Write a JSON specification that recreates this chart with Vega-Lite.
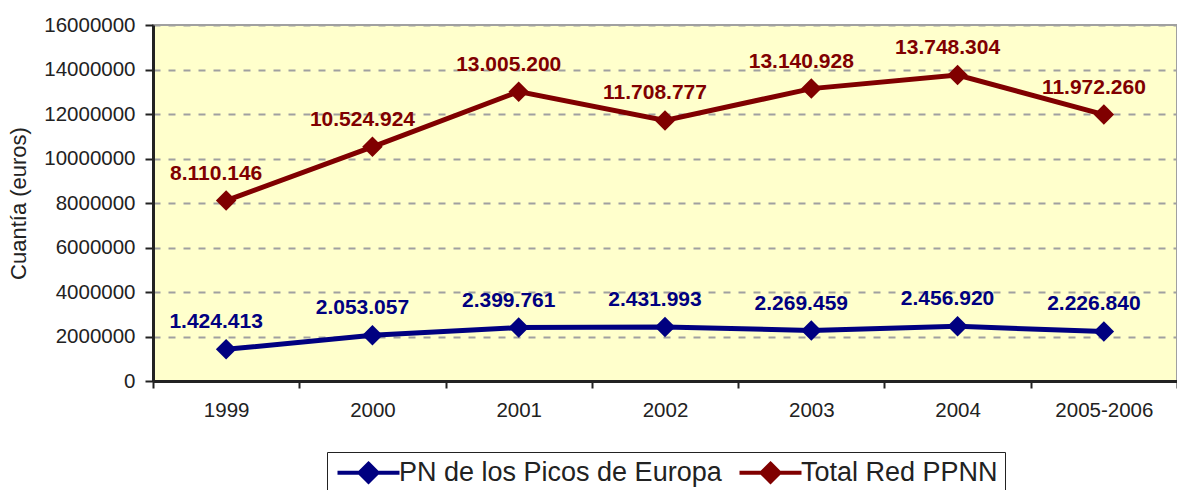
{
  "$schema": "https://vega.github.io/schema/vega-lite/v6.json",
  "autosize": "none",
  "padding": {"left": 153, "top": 25, "right": 0, "bottom": 109},
  "width": 1024,
  "height": 356,
  "background": "white",
  "config": {
    "locale": {"number": {"decimal": ",", "thousands": ".", "grouping": [3], "currency": ["", " €"]}},
    "font": "Liberation Sans",
    "view": {"fill": "#FFFFCC", "stroke": "#A0A0A0", "strokeWidth": 2},
    "legend": {"strokeColor": "#222", "padding": 7, "fillColor": "white"}
  },
  "data": {
    "values": [
      {"year": "1999", "series": "PN de los Picos de Europa", "value": 1424413},
      {"year": "2000", "series": "PN de los Picos de Europa", "value": 2053057},
      {"year": "2001", "series": "PN de los Picos de Europa", "value": 2399761},
      {"year": "2002", "series": "PN de los Picos de Europa", "value": 2431993},
      {"year": "2003", "series": "PN de los Picos de Europa", "value": 2269459},
      {"year": "2004", "series": "PN de los Picos de Europa", "value": 2456920},
      {"year": "2005-2006", "series": "PN de los Picos de Europa", "value": 2226840},
      {"year": "1999", "series": "Total Red PPNN", "value": 8110146},
      {"year": "2000", "series": "Total Red PPNN", "value": 10524924},
      {"year": "2001", "series": "Total Red PPNN", "value": 13005200},
      {"year": "2002", "series": "Total Red PPNN", "value": 11708777},
      {"year": "2003", "series": "Total Red PPNN", "value": 13140928},
      {"year": "2004", "series": "Total Red PPNN", "value": 13748304},
      {"year": "2005-2006", "series": "Total Red PPNN", "value": 11972260}
    ]
  },
  "encoding": {
    "x": {
      "field": "year", "type": "ordinal", "sort": null,
      "scale": {"type": "band", "paddingInner": 0, "paddingOuter": 0},
      "axis": {
        "title": null, "labelAngle": 0, "labelFontSize": 20.5, "labelColor": "#222",
        "labelPadding": 12, "domainColor": "#222", "domainWidth": 3,
        "tickColor": "#222", "tickWidth": 2, "tickSize": 7, "tickBand": "extent", "grid": false
      }
    },
    "y": {
      "field": "value", "type": "quantitative",
      "scale": {"domain": [0, 16000000], "nice": false, "zero": true},
      "axis": {
        "title": "Cuantía (euros)", "titleFontSize": 22, "titleFontWeight": "normal", "titleColor": "#222",
        "titlePadding": 13,
        "values": [0, 2000000, 4000000, 6000000, 8000000, 10000000, 12000000, 14000000, 16000000],
        "format": "d", "labelFontSize": 20.5, "labelColor": "#222", "labelPadding": 10,
        "domainColor": "#222", "domainWidth": 3, "tickColor": "#222", "tickWidth": 2, "tickSize": 8,
        "grid": true, "gridColor": "#A0A0A0", "gridDash": [7, 8], "gridWidth": 2
      }
    },
    "color": {
      "field": "series", "type": "nominal",
      "scale": {"domain": ["PN de los Picos de Europa", "Total Red PPNN"], "range": ["#000080", "#800000"]}
    }
  },
  "layer": [
    {
      "mark": {"type": "line", "strokeWidth": 5},
      "encoding": {
        "color": {
          "field": "series", "type": "nominal",
          "legend": {
            "title": null, "orient": "none", "legendX": 174, "legendY": 427, "direction": "horizontal",
            "labelFontSize": 27, "labelColor": "#222", "labelOffset": 38, "labelLimit": 500, "columnPadding": 9,
            "symbolType": "M-1,0H5.2M2.1,-0.9L3,0L2.1,0.9L1.2,0ZM2.1,-0.5L2.5,0L2.1,0.5L1.7,0ZM2.1,-0.5V0.5",
            "symbolSize": 400, "symbolStrokeWidth": 4
          }
        }
      }
    },
    {
      "mark": {"type": "point", "shape": "diamond", "size": 420, "filled": true, "opacity": 1},
      "encoding": {
        "color": {"field": "series", "type": "nominal", "legend": null}
      }
    },
    {
      "mark": {"type": "text", "dx": -10, "dy": -27, "fontSize": 21, "fontWeight": "bold", "baseline": "middle"},
      "encoding": {
        "text": {"field": "value", "type": "quantitative", "format": ",d"},
        "color": {"field": "series", "type": "nominal", "legend": null}
      }
    }
  ]
}
